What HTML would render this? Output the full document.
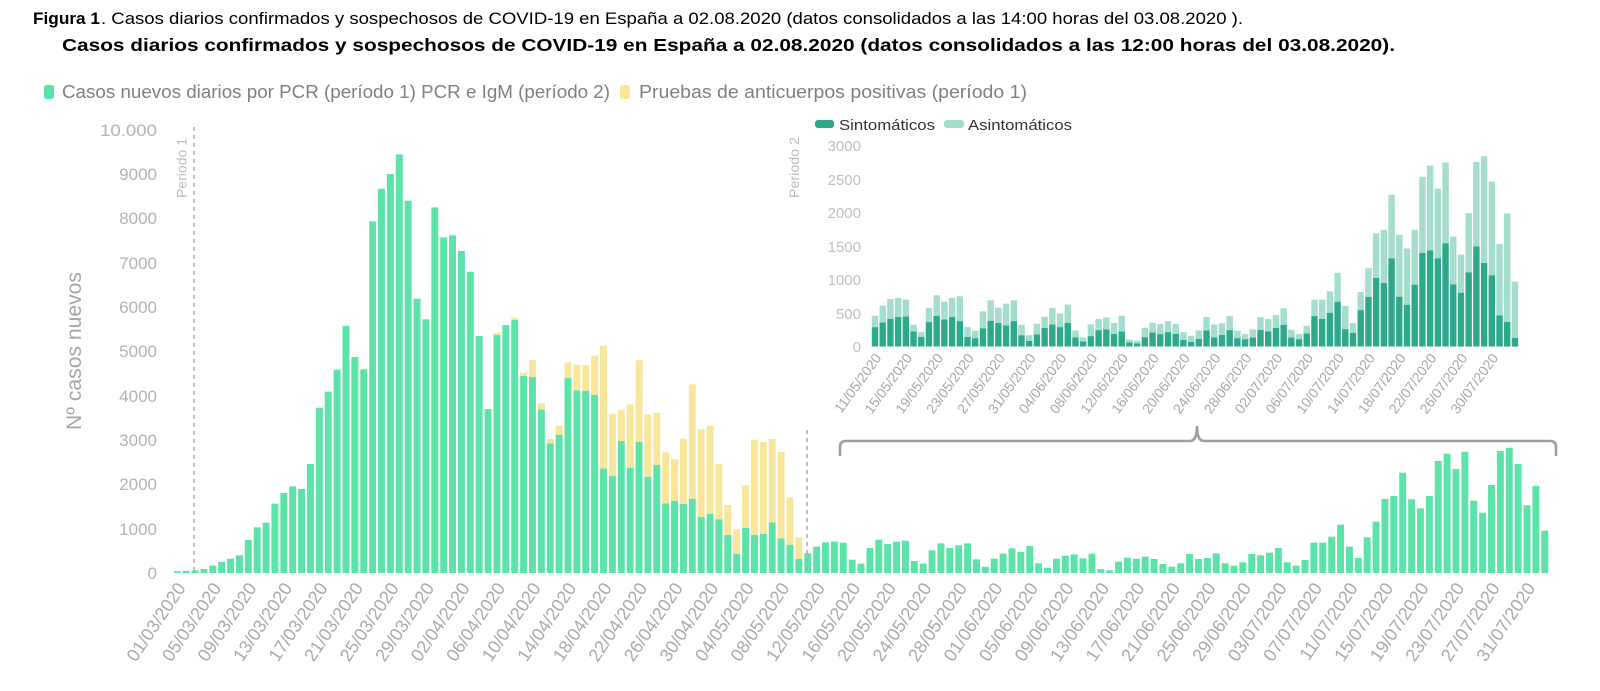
<!DOCTYPE html>
<html><head><meta charset="utf-8"><style>
html,body{margin:0;padding:0;background:#fff;}
svg{display:block;font-family:"Liberation Sans",sans-serif;}
</style></head><body>
<svg width="1600" height="691" viewBox="0 0 1600 691" xmlns="http://www.w3.org/2000/svg">
<rect width="1600" height="691" fill="#fff"/>
<defs><clipPath id="lc"><rect x="0" y="575" width="1600" height="89"/></clipPath></defs>

<!-- Titles -->
<text x="33" y="24" font-size="17" font-weight="bold" fill="#000" textLength="67" lengthAdjust="spacingAndGlyphs">Figura 1</text>
<text x="101" y="24" font-size="17" fill="#000" textLength="1142" lengthAdjust="spacingAndGlyphs">. Casos diarios confirmados y sospechosos de COVID-19 en España a 02.08.2020 (datos consolidados a las 14:00 horas del 03.08.2020 ).</text>
<text x="62" y="51" font-size="17.5" font-weight="bold" fill="#000" textLength="1333" lengthAdjust="spacingAndGlyphs">Casos diarios confirmados y sospechosos de COVID-19 en España a 02.08.2020 (datos consolidados a las 12:00 horas del 03.08.2020).</text>

<!-- Legend -->
<rect x="44" y="85" width="10" height="14" rx="2.5" fill="#5ce3a8"/>
<text x="62" y="98" font-size="18" fill="#808080" textLength="548" lengthAdjust="spacingAndGlyphs">Casos nuevos diarios por PCR (período 1) PCR e IgM (período 2)</text>
<rect x="620" y="85" width="10" height="14" rx="2.5" fill="#f8e69a"/>
<text x="639" y="98" font-size="18" fill="#808080" textLength="388" lengthAdjust="spacingAndGlyphs">Pruebas de anticuerpos positivas (período 1)</text>

<!-- Main Y axis -->
<g font-size="17" fill="#b3b3b3" text-anchor="end">
<text x="157" y="136" textLength="57" lengthAdjust="spacingAndGlyphs">10.000</text>
<text x="157" y="180">9000</text>
<text x="157" y="224">8000</text>
<text x="157" y="269">7000</text>
<text x="157" y="313">6000</text>
<text x="157" y="357">5000</text>
<text x="157" y="402">4000</text>
<text x="157" y="446">3000</text>
<text x="157" y="490">2000</text>
<text x="157" y="535">1000</text>
<text x="157" y="579">0</text>
</g>
<text transform="translate(81,351) rotate(-90)" font-size="21" fill="#a6a6a6" text-anchor="middle" textLength="158" lengthAdjust="spacingAndGlyphs">Nº casos nuevos</text>

<!-- Main bars -->
<g transform="translate(173.8,573) scale(8.88,-0.0443)" fill="#5ce3a8">
<rect x="0" y="0" width="0.78" height="40"/><rect x="1" y="0" width="0.78" height="50"/><rect x="2" y="0" width="0.78" height="60"/><rect x="3" y="0" width="0.78" height="90"/><rect x="4" y="0" width="0.78" height="165"/><rect x="5" y="0" width="0.78" height="248"/><rect x="6" y="0" width="0.78" height="323"/><rect x="7" y="0" width="0.78" height="399"/><rect x="8" y="0" width="0.78" height="745"/><rect x="9" y="0" width="0.78" height="1031"/>
<rect x="10" y="0" width="0.78" height="1136"/><rect x="11" y="0" width="0.78" height="1565"/><rect x="12" y="0" width="0.78" height="1806"/><rect x="13" y="0" width="0.78" height="1956"/><rect x="14" y="0" width="0.78" height="1896"/><rect x="15" y="0" width="0.78" height="2460"/><rect x="16" y="0" width="0.78" height="3731"/><rect x="17" y="0" width="0.78" height="4092"/><rect x="18" y="0" width="0.78" height="4589"/><rect x="19" y="0" width="0.78" height="5582"/>
<rect x="20" y="0" width="0.78" height="4875"/><rect x="21" y="0" width="0.78" height="4597"/><rect x="22" y="0" width="0.78" height="7937"/><rect x="23" y="0" width="0.78" height="8673"/><rect x="24" y="0" width="0.78" height="9005"/><rect x="25" y="0" width="0.78" height="9449"/><rect x="26" y="0" width="0.78" height="8403"/><rect x="27" y="0" width="0.78" height="6191"/><rect x="28" y="0" width="0.78" height="5726"/><rect x="29" y="0" width="0.78" height="8254"/>
<rect x="30" y="0" width="0.78" height="7577"/><rect x="31" y="0" width="0.78" height="7622"/><rect x="32" y="0" width="0.78" height="7268"/><rect x="33" y="0" width="0.78" height="6800"/><rect x="34" y="0" width="0.78" height="5349"/><rect x="35" y="0" width="0.78" height="3701"/><rect x="36" y="0" width="0.78" height="5372"/><rect x="37" y="0" width="0.78" height="5597"/><rect x="38" y="0" width="0.78" height="5710"/><rect x="39" y="0" width="0.78" height="4446"/>
<rect x="40" y="0" width="0.78" height="4424"/><rect x="41" y="0" width="0.78" height="3694"/><rect x="42" y="0" width="0.78" height="2927"/><rect x="43" y="0" width="0.78" height="3115"/><rect x="44" y="0" width="0.78" height="4401"/><rect x="45" y="0" width="0.78" height="4123"/><rect x="46" y="0" width="0.78" height="4115"/><rect x="47" y="0" width="0.78" height="4017"/><rect x="48" y="0" width="0.78" height="2362"/><rect x="49" y="0" width="0.78" height="2189"/>
<rect x="50" y="0" width="0.78" height="2979"/><rect x="51" y="0" width="0.78" height="2377"/><rect x="52" y="0" width="0.78" height="2957"/><rect x="53" y="0" width="0.78" height="2174"/><rect x="54" y="0" width="0.78" height="2437"/><rect x="55" y="0" width="0.78" height="1573"/><rect x="56" y="0" width="0.78" height="1632"/><rect x="57" y="0" width="0.78" height="1557"/><rect x="58" y="0" width="0.78" height="1677"/><rect x="59" y="0" width="0.78" height="1264"/>
<rect x="60" y="0" width="0.78" height="1339"/><rect x="61" y="0" width="0.78" height="1212"/><rect x="62" y="0" width="0.78" height="858"/><rect x="63" y="0" width="0.78" height="429"/><rect x="64" y="0" width="0.78" height="1016"/><rect x="65" y="0" width="0.78" height="858"/><rect x="66" y="0" width="0.78" height="880"/><rect x="67" y="0" width="0.78" height="1144"/><rect x="68" y="0" width="0.78" height="783"/><rect x="69" y="0" width="0.78" height="639"/>
<rect x="70" y="0" width="0.78" height="316"/><rect x="71" y="0" width="0.78" height="444"/><rect x="72" y="0" width="0.78" height="594"/><rect x="73" y="0" width="0.78" height="692"/><rect x="74" y="0" width="0.78" height="707"/><rect x="75" y="0" width="0.78" height="684"/><rect x="76" y="0" width="0.78" height="301"/><rect x="77" y="0" width="0.78" height="211"/><rect x="78" y="0" width="0.78" height="564"/><rect x="79" y="0" width="0.78" height="752"/>
<rect x="80" y="0" width="0.78" height="654"/><rect x="81" y="0" width="0.78" height="707"/><rect x="82" y="0" width="0.78" height="730"/><rect x="83" y="0" width="0.78" height="271"/><rect x="84" y="0" width="0.78" height="211"/><rect x="85" y="0" width="0.78" height="512"/><rect x="86" y="0" width="0.78" height="670"/><rect x="87" y="0" width="0.78" height="564"/><rect x="88" y="0" width="0.78" height="624"/><rect x="89" y="0" width="0.78" height="670"/>
<rect x="90" y="0" width="0.78" height="308"/><rect x="91" y="0" width="0.78" height="143"/><rect x="92" y="0" width="0.78" height="323"/><rect x="93" y="0" width="0.78" height="436"/><rect x="94" y="0" width="0.78" height="557"/><rect x="95" y="0" width="0.78" height="474"/><rect x="96" y="0" width="0.78" height="609"/><rect x="97" y="0" width="0.78" height="218"/><rect x="98" y="0" width="0.78" height="120"/><rect x="99" y="0" width="0.78" height="323"/>
<rect x="100" y="0" width="0.78" height="391"/><rect x="101" y="0" width="0.78" height="421"/><rect x="102" y="0" width="0.78" height="331"/><rect x="103" y="0" width="0.78" height="436"/><rect x="104" y="0" width="0.78" height="90"/><rect x="105" y="0" width="0.78" height="60"/><rect x="106" y="0" width="0.78" height="256"/><rect x="107" y="0" width="0.78" height="346"/><rect x="108" y="0" width="0.78" height="323"/><rect x="109" y="0" width="0.78" height="369"/>
<rect x="110" y="0" width="0.78" height="316"/><rect x="111" y="0" width="0.78" height="203"/><rect x="112" y="0" width="0.78" height="143"/><rect x="113" y="0" width="0.78" height="218"/><rect x="114" y="0" width="0.78" height="429"/><rect x="115" y="0" width="0.78" height="316"/><rect x="116" y="0" width="0.78" height="339"/><rect x="117" y="0" width="0.78" height="444"/><rect x="118" y="0" width="0.78" height="218"/><rect x="119" y="0" width="0.78" height="165"/>
<rect x="120" y="0" width="0.78" height="241"/><rect x="121" y="0" width="0.78" height="429"/><rect x="122" y="0" width="0.78" height="399"/><rect x="123" y="0" width="0.78" height="459"/><rect x="124" y="0" width="0.78" height="564"/><rect x="125" y="0" width="0.78" height="241"/><rect x="126" y="0" width="0.78" height="165"/><rect x="127" y="0" width="0.78" height="293"/><rect x="128" y="0" width="0.78" height="684"/><rect x="129" y="0" width="0.78" height="684"/>
<rect x="130" y="0" width="0.78" height="820"/><rect x="131" y="0" width="0.78" height="1090"/><rect x="132" y="0" width="0.78" height="594"/><rect x="133" y="0" width="0.78" height="339"/><rect x="134" y="0" width="0.78" height="806"/><rect x="135" y="0" width="0.78" height="1158"/><rect x="136" y="0" width="0.78" height="1670"/><rect x="137" y="0" width="0.78" height="1738"/><rect x="138" y="0" width="0.78" height="2264"/><rect x="139" y="0" width="0.78" height="1663"/>
<rect x="140" y="0" width="0.78" height="1460"/><rect x="141" y="0" width="0.78" height="1738"/><rect x="142" y="0" width="0.78" height="2528"/><rect x="143" y="0" width="0.78" height="2693"/><rect x="144" y="0" width="0.78" height="2347"/><rect x="145" y="0" width="0.78" height="2738"/><rect x="146" y="0" width="0.78" height="1632"/><rect x="147" y="0" width="0.78" height="1361"/><rect x="148" y="0" width="0.78" height="1986"/><rect x="149" y="0" width="0.78" height="2753"/>
<rect x="150" y="0" width="0.78" height="2828"/><rect x="151" y="0" width="0.78" height="2460"/><rect x="152" y="0" width="0.78" height="1528"/><rect x="153" y="0" width="0.78" height="1964"/><rect x="154" y="0" width="0.78" height="955"/>
</g>
<g transform="translate(173.8,573) scale(8.88,-0.0443)" fill="#f8e69a">
<rect x="36" y="5372" width="0.78" height="52"/><rect x="38" y="5710" width="0.78" height="52"/><rect x="39" y="4446" width="0.78" height="75"/>
<rect x="40" y="4424" width="0.78" height="383"/><rect x="41" y="3694" width="0.78" height="136"/><rect x="42" y="2927" width="0.78" height="97"/><rect x="43" y="3115" width="0.78" height="203"/><rect x="44" y="4401" width="0.78" height="354"/><rect x="45" y="4123" width="0.78" height="579"/><rect x="46" y="4115" width="0.78" height="572"/><rect x="47" y="4017" width="0.78" height="888"/><rect x="48" y="2362" width="0.78" height="2768"/><rect x="49" y="2189" width="0.78" height="1407"/>
<rect x="50" y="2979" width="0.78" height="707"/><rect x="51" y="2377" width="0.78" height="1430"/><rect x="52" y="2957" width="0.78" height="1850"/><rect x="53" y="2174" width="0.78" height="1407"/><rect x="54" y="2437" width="0.78" height="1181"/><rect x="55" y="1573" width="0.78" height="1151"/><rect x="56" y="1632" width="0.78" height="934"/><rect x="57" y="1557" width="0.78" height="1474"/><rect x="58" y="1677" width="0.78" height="2582"/><rect x="59" y="1264" width="0.78" height="1979"/>
<rect x="60" y="1339" width="0.78" height="1986"/><rect x="61" y="1212" width="0.78" height="1248"/><rect x="62" y="858" width="0.78" height="677"/><rect x="63" y="429" width="0.78" height="557"/><rect x="64" y="1016" width="0.78" height="963"/><rect x="65" y="858" width="0.78" height="2151"/><rect x="66" y="880" width="0.78" height="2077"/><rect x="67" y="1144" width="0.78" height="1880"/><rect x="68" y="783" width="0.78" height="1948"/><rect x="69" y="639" width="0.78" height="1070"/>
<rect x="70" y="316" width="0.78" height="490"/>
</g>

<!-- Period lines -->
<line x1="194" y1="127" x2="194" y2="573" stroke="#aaaaaa" stroke-width="1.5" stroke-dasharray="4 4"/>
<text transform="translate(186.5,198) rotate(-90)" font-size="14" fill="#bdbdbd" textLength="60" lengthAdjust="spacingAndGlyphs">Periodo 1</text>
<line x1="807" y1="430" x2="807" y2="573" stroke="#aaaaaa" stroke-width="1.5" stroke-dasharray="4 4"/>
<text transform="translate(799,198) rotate(-90)" font-size="14" fill="#bdbdbd" textLength="61" lengthAdjust="spacingAndGlyphs">Periodo 2</text>

<!-- Bracket -->
<path d="M840,456 L840,447 Q840,441 846,441 L1190,441 Q1197,441 1197,426 Q1197,441 1204,441 L1550,441 Q1556,441 1556,447 L1556,456" fill="none" stroke="#9e9e9e" stroke-width="2.6"/>

<!-- Main X labels -->
<g clip-path="url(#lc)" font-size="18" fill="#aaaaaa" text-anchor="end">
<text transform="translate(186.3,588) rotate(-56)">01/03/2020</text>
<text transform="translate(221.8,588) rotate(-56)">05/03/2020</text>
<text transform="translate(257.3,588) rotate(-56)">09/03/2020</text>
<text transform="translate(292.8,588) rotate(-56)">13/03/2020</text>
<text transform="translate(328.3,588) rotate(-56)">17/03/2020</text>
<text transform="translate(363.9,588) rotate(-56)">21/03/2020</text>
<text transform="translate(399.4,588) rotate(-56)">25/03/2020</text>
<text transform="translate(434.9,588) rotate(-56)">29/03/2020</text>
<text transform="translate(470.4,588) rotate(-56)">02/04/2020</text>
<text transform="translate(505.9,588) rotate(-56)">06/04/2020</text>
<text transform="translate(541.5,588) rotate(-56)">10/04/2020</text>
<text transform="translate(577.0,588) rotate(-56)">14/04/2020</text>
<text transform="translate(612.5,588) rotate(-56)">18/04/2020</text>
<text transform="translate(648.0,588) rotate(-56)">22/04/2020</text>
<text transform="translate(683.5,588) rotate(-56)">26/04/2020</text>
<text transform="translate(719.1,588) rotate(-56)">30/04/2020</text>
<text transform="translate(754.6,588) rotate(-56)">04/05/2020</text>
<text transform="translate(790.1,588) rotate(-56)">08/05/2020</text>
<text transform="translate(825.6,588) rotate(-56)">12/05/2020</text>
<text transform="translate(861.1,588) rotate(-56)">16/05/2020</text>
<text transform="translate(896.7,588) rotate(-56)">20/05/2020</text>
<text transform="translate(932.2,588) rotate(-56)">24/05/2020</text>
<text transform="translate(967.7,588) rotate(-56)">28/05/2020</text>
<text transform="translate(1003.2,588) rotate(-56)">01/06/2020</text>
<text transform="translate(1038.7,588) rotate(-56)">05/06/2020</text>
<text transform="translate(1074.3,588) rotate(-56)">09/06/2020</text>
<text transform="translate(1109.8,588) rotate(-56)">13/06/2020</text>
<text transform="translate(1145.3,588) rotate(-56)">17/06/2020</text>
<text transform="translate(1180.8,588) rotate(-56)">21/06/2020</text>
<text transform="translate(1216.3,588) rotate(-56)">25/06/2020</text>
<text transform="translate(1251.9,588) rotate(-56)">29/06/2020</text>
<text transform="translate(1287.4,588) rotate(-56)">03/07/2020</text>
<text transform="translate(1322.9,588) rotate(-56)">07/07/2020</text>
<text transform="translate(1358.4,588) rotate(-56)">11/07/2020</text>
<text transform="translate(1393.9,588) rotate(-56)">15/07/2020</text>
<text transform="translate(1429.5,588) rotate(-56)">19/07/2020</text>
<text transform="translate(1465.0,588) rotate(-56)">23/07/2020</text>
<text transform="translate(1500.5,588) rotate(-56)">27/07/2020</text>
<text transform="translate(1536.0,588) rotate(-56)">31/07/2020</text>
</g>

<!-- Inset legend -->
<rect x="815" y="120" width="19" height="8" rx="3" fill="#2ca88a"/>
<text x="839" y="130" font-size="14.5" fill="#333" textLength="96" lengthAdjust="spacingAndGlyphs">Sintomáticos</text>
<rect x="944" y="120" width="20" height="8" rx="3" fill="#a5dece"/>
<text x="968" y="130" font-size="14.5" fill="#333" textLength="104" lengthAdjust="spacingAndGlyphs">Asintomáticos</text>

<!-- Inset Y axis -->
<g font-size="15" fill="#c0c0c0" text-anchor="end">
<text x="861" y="151">3000</text>
<text x="861" y="185">2500</text>
<text x="861" y="218">2000</text>
<text x="861" y="252">1500</text>
<text x="861" y="285">1000</text>
<text x="861" y="319">500</text>
<text x="861" y="352">0</text>
</g>

<!-- Inset bars -->
<g transform="translate(871.8,346.5) scale(7.71,-0.0669)" fill="#2ca88a">
<rect x="0" y="0" width="0.83" height="290"/><rect x="1" y="0" width="0.83" height="360"/><rect x="2" y="0" width="0.83" height="415"/><rect x="3" y="0" width="0.83" height="440"/><rect x="4" y="0" width="0.83" height="450"/><rect x="5" y="0" width="0.83" height="225"/><rect x="6" y="0" width="0.83" height="145"/><rect x="7" y="0" width="0.83" height="365"/><rect x="8" y="0" width="0.83" height="460"/><rect x="9" y="0" width="0.83" height="405"/>
<rect x="10" y="0" width="0.83" height="440"/><rect x="11" y="0" width="0.83" height="380"/><rect x="12" y="0" width="0.83" height="145"/><rect x="13" y="0" width="0.83" height="125"/><rect x="14" y="0" width="0.83" height="270"/><rect x="15" y="0" width="0.83" height="385"/><rect x="16" y="0" width="0.83" height="355"/><rect x="17" y="0" width="0.83" height="315"/><rect x="18" y="0" width="0.83" height="380"/><rect x="19" y="0" width="0.83" height="170"/>
<rect x="20" y="0" width="0.83" height="85"/><rect x="21" y="0" width="0.83" height="180"/><rect x="22" y="0" width="0.83" height="280"/><rect x="23" y="0" width="0.83" height="330"/><rect x="24" y="0" width="0.83" height="290"/><rect x="25" y="0" width="0.83" height="355"/><rect x="26" y="0" width="0.83" height="135"/><rect x="27" y="0" width="0.83" height="75"/><rect x="28" y="0" width="0.83" height="155"/><rect x="29" y="0" width="0.83" height="245"/>
<rect x="30" y="0" width="0.83" height="255"/><rect x="31" y="0" width="0.83" height="190"/><rect x="32" y="0" width="0.83" height="225"/><rect x="33" y="0" width="0.83" height="60"/><rect x="34" y="0" width="0.83" height="45"/><rect x="35" y="0" width="0.83" height="140"/><rect x="36" y="0" width="0.83" height="210"/><rect x="37" y="0" width="0.83" height="185"/><rect x="38" y="0" width="0.83" height="215"/><rect x="39" y="0" width="0.83" height="190"/>
<rect x="40" y="0" width="0.83" height="100"/><rect x="41" y="0" width="0.83" height="70"/><rect x="42" y="0" width="0.83" height="115"/><rect x="43" y="0" width="0.83" height="240"/><rect x="44" y="0" width="0.83" height="135"/><rect x="45" y="0" width="0.83" height="175"/><rect x="46" y="0" width="0.83" height="245"/><rect x="47" y="0" width="0.83" height="125"/><rect x="48" y="0" width="0.83" height="110"/><rect x="49" y="0" width="0.83" height="135"/>
<rect x="50" y="0" width="0.83" height="250"/><rect x="51" y="0" width="0.83" height="225"/><rect x="52" y="0" width="0.83" height="280"/><rect x="53" y="0" width="0.83" height="325"/><rect x="54" y="0" width="0.83" height="135"/><rect x="55" y="0" width="0.83" height="110"/><rect x="56" y="0" width="0.83" height="195"/><rect x="57" y="0" width="0.83" height="455"/><rect x="58" y="0" width="0.83" height="415"/><rect x="59" y="0" width="0.83" height="505"/>
<rect x="60" y="0" width="0.83" height="670"/><rect x="61" y="0" width="0.83" height="260"/><rect x="62" y="0" width="0.83" height="205"/><rect x="63" y="0" width="0.83" height="545"/><rect x="64" y="0" width="0.83" height="740"/><rect x="65" y="0" width="0.83" height="1025"/><rect x="66" y="0" width="0.83" height="950"/><rect x="67" y="0" width="0.83" height="1320"/><rect x="68" y="0" width="0.83" height="745"/><rect x="69" y="0" width="0.83" height="625"/>
<rect x="70" y="0" width="0.83" height="925"/><rect x="71" y="0" width="0.83" height="1400"/><rect x="72" y="0" width="0.83" height="1435"/><rect x="73" y="0" width="0.83" height="1320"/><rect x="74" y="0" width="0.83" height="1545"/><rect x="75" y="0" width="0.83" height="930"/><rect x="76" y="0" width="0.83" height="805"/><rect x="77" y="0" width="0.83" height="1110"/><rect x="78" y="0" width="0.83" height="1495"/><rect x="79" y="0" width="0.83" height="1250"/>
<rect x="80" y="0" width="0.83" height="1065"/><rect x="81" y="0" width="0.83" height="465"/><rect x="82" y="0" width="0.83" height="370"/><rect x="83" y="0" width="0.83" height="130"/>
</g>
<g transform="translate(871.8,346.5) scale(7.71,-0.0669)" fill="#a5dece">
<rect x="0" y="290" width="0.83" height="170"/><rect x="1" y="360" width="0.83" height="250"/><rect x="2" y="415" width="0.83" height="295"/><rect x="3" y="440" width="0.83" height="285"/><rect x="4" y="450" width="0.83" height="250"/><rect x="5" y="225" width="0.83" height="100"/><rect x="6" y="145" width="0.83" height="70"/><rect x="7" y="365" width="0.83" height="210"/><rect x="8" y="460" width="0.83" height="305"/><rect x="9" y="405" width="0.83" height="265"/>
<rect x="10" y="440" width="0.83" height="285"/><rect x="11" y="380" width="0.83" height="370"/><rect x="12" y="145" width="0.83" height="145"/><rect x="13" y="125" width="0.83" height="110"/><rect x="14" y="270" width="0.83" height="255"/><rect x="15" y="385" width="0.83" height="305"/><rect x="16" y="355" width="0.83" height="225"/><rect x="17" y="315" width="0.83" height="325"/><rect x="18" y="380" width="0.83" height="310"/><rect x="19" y="170" width="0.83" height="155"/>
<rect x="20" y="85" width="0.83" height="85"/><rect x="21" y="180" width="0.83" height="160"/><rect x="22" y="280" width="0.83" height="165"/><rect x="23" y="330" width="0.83" height="245"/><rect x="24" y="290" width="0.83" height="205"/><rect x="25" y="355" width="0.83" height="270"/><rect x="26" y="135" width="0.83" height="105"/><rect x="27" y="75" width="0.83" height="60"/><rect x="28" y="155" width="0.83" height="175"/><rect x="29" y="245" width="0.83" height="165"/>
<rect x="30" y="255" width="0.83" height="180"/><rect x="31" y="190" width="0.83" height="160"/><rect x="32" y="225" width="0.83" height="235"/><rect x="33" y="60" width="0.83" height="45"/><rect x="34" y="45" width="0.83" height="40"/><rect x="35" y="140" width="0.83" height="140"/><rect x="36" y="210" width="0.83" height="145"/><rect x="37" y="185" width="0.83" height="150"/><rect x="38" y="215" width="0.83" height="165"/><rect x="39" y="190" width="0.83" height="145"/>
<rect x="40" y="100" width="0.83" height="115"/><rect x="41" y="70" width="0.83" height="90"/><rect x="42" y="115" width="0.83" height="125"/><rect x="43" y="240" width="0.83" height="200"/><rect x="44" y="135" width="0.83" height="195"/><rect x="45" y="175" width="0.83" height="175"/><rect x="46" y="245" width="0.83" height="210"/><rect x="47" y="125" width="0.83" height="110"/><rect x="48" y="110" width="0.83" height="75"/><rect x="49" y="135" width="0.83" height="120"/>
<rect x="50" y="250" width="0.83" height="190"/><rect x="51" y="225" width="0.83" height="185"/><rect x="52" y="280" width="0.83" height="190"/><rect x="53" y="325" width="0.83" height="245"/><rect x="54" y="135" width="0.83" height="115"/><rect x="55" y="110" width="0.83" height="75"/><rect x="56" y="195" width="0.83" height="115"/><rect x="57" y="455" width="0.83" height="245"/><rect x="58" y="415" width="0.83" height="285"/><rect x="59" y="505" width="0.83" height="320"/>
<rect x="60" y="670" width="0.83" height="430"/><rect x="61" y="260" width="0.83" height="345"/><rect x="62" y="205" width="0.83" height="145"/><rect x="63" y="545" width="0.83" height="270"/><rect x="64" y="740" width="0.83" height="430"/><rect x="65" y="1025" width="0.83" height="665"/><rect x="66" y="950" width="0.83" height="795"/><rect x="67" y="1320" width="0.83" height="950"/><rect x="68" y="745" width="0.83" height="925"/><rect x="69" y="625" width="0.83" height="840"/>
<rect x="70" y="925" width="0.83" height="820"/><rect x="71" y="1400" width="0.83" height="1135"/><rect x="72" y="1435" width="0.83" height="1270"/><rect x="73" y="1320" width="0.83" height="1040"/><rect x="74" y="1545" width="0.83" height="1205"/><rect x="75" y="930" width="0.83" height="715"/><rect x="76" y="805" width="0.83" height="570"/><rect x="77" y="1110" width="0.83" height="885"/><rect x="78" y="1495" width="0.83" height="1265"/><rect x="79" y="1250" width="0.83" height="1595"/>
<rect x="80" y="1065" width="0.83" height="1400"/><rect x="81" y="465" width="0.83" height="1065"/><rect x="82" y="370" width="0.83" height="1620"/><rect x="83" y="130" width="0.83" height="840"/>
</g>

<!-- Inset X labels -->
<g font-size="14" fill="#a8a8a8" text-anchor="end">
<text transform="translate(882,358) rotate(-54)">11/05/2020</text>
<text transform="translate(912.8,358) rotate(-54)">15/05/2020</text>
<text transform="translate(943.7,358) rotate(-54)">19/05/2020</text>
<text transform="translate(974.5,358) rotate(-54)">23/05/2020</text>
<text transform="translate(1005.4,358) rotate(-54)">27/05/2020</text>
<text transform="translate(1036.2,358) rotate(-54)">31/05/2020</text>
<text transform="translate(1067.0,358) rotate(-54)">04/06/2020</text>
<text transform="translate(1097.9,358) rotate(-54)">08/06/2020</text>
<text transform="translate(1128.7,358) rotate(-54)">12/06/2020</text>
<text transform="translate(1159.6,358) rotate(-54)">16/06/2020</text>
<text transform="translate(1190.4,358) rotate(-54)">20/06/2020</text>
<text transform="translate(1221.2,358) rotate(-54)">24/06/2020</text>
<text transform="translate(1252.1,358) rotate(-54)">28/06/2020</text>
<text transform="translate(1282.9,358) rotate(-54)">02/07/2020</text>
<text transform="translate(1313.8,358) rotate(-54)">06/07/2020</text>
<text transform="translate(1344.6,358) rotate(-54)">10/07/2020</text>
<text transform="translate(1375.4,358) rotate(-54)">14/07/2020</text>
<text transform="translate(1406.3,358) rotate(-54)">18/07/2020</text>
<text transform="translate(1437.1,358) rotate(-54)">22/07/2020</text>
<text transform="translate(1468.0,358) rotate(-54)">26/07/2020</text>
<text transform="translate(1498.8,358) rotate(-54)">30/07/2020</text>
</g>
</svg>
</body></html>
